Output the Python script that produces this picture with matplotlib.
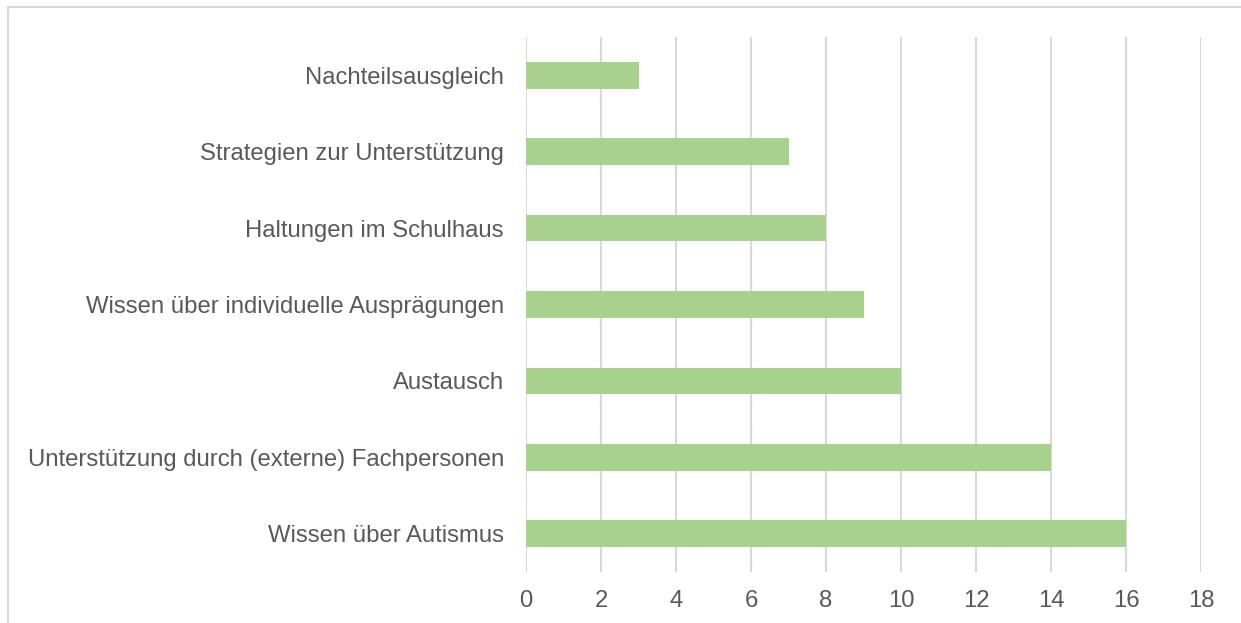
import matplotlib.pyplot as plt
from matplotlib.lines import Line2D

# categories (bottom to top as drawn) and counts
categories = [
    "Wissen über Autismus",
    "Unterstützung durch (externe) Fachpersonen",
    "Austausch",
    "Wissen über individuelle Ausprägungen",
    "Haltungen im Schulhaus",
    "Strategien zur Unterstützung",
    "Nachteilsausgleich",
]
values = [16, 14, 10, 9, 8, 7, 3]
x_ticks = [0, 2, 4, 6, 8, 10, 12, 14, 16, 18]

plt.rcParams['font.family'] = ['Liberation Sans', 'DejaVu Sans']

fig = plt.figure(figsize=(12.41, 6.23), dpi=100)
ax = fig.add_axes([0.4239, 0.0819, 0.5439, 0.8587])

ax.barh(range(len(categories)), values, height=0.35, color='#A9D18E', zorder=3)

ax.set_xlim(0, 18)
ax.set_ylim(-0.5, len(categories) - 0.5)
ax.set_xticks(x_ticks)
ax.set_xticklabels([str(t) for t in x_ticks])
ax.set_yticks(range(len(categories)))
ax.set_yticklabels(categories)
ax.tick_params(axis='both', length=0, labelsize=17.2, colors='#595959')
ax.tick_params(axis='x', pad=13)
ax.tick_params(axis='y', pad=16)

ax.grid(axis='x', color='#D9D9D9', linewidth=1.5, zorder=0)
for s in ax.spines.values():
    s.set_visible(False)

# outer frame (only top and left visible in the crop)
fig.add_artist(Line2D([8 / 1241, 8 / 1241], [0, 1 - 7 / 623], transform=fig.transFigure,
                      color='#D9D9D9', linewidth=1.5))
fig.add_artist(Line2D([8 / 1241, 1], [1 - 7 / 623, 1 - 7 / 623], transform=fig.transFigure,
                      color='#D9D9D9', linewidth=1.5))

fig.savefig('out.png', dpi=100)
